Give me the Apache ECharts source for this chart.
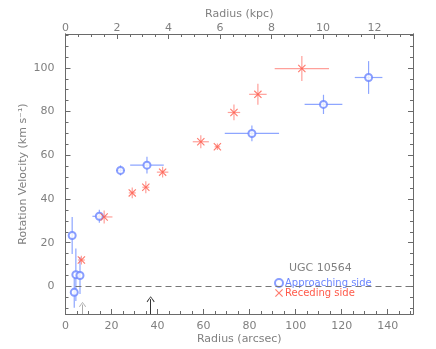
<!DOCTYPE html>
<html>
<head>
  <meta charset="utf-8">
  <script src="https://cdn.jsdelivr.net/npm/echarts@6.0.0/dist/echarts.min.js"></script>
  <style>
    html, body { margin: 0; padding: 0; background: #fff; }
  </style>
</head>
<body>
  <div id="chart" style="width: 436px; height: 349px;"></div>
  <script>
    // approaching side: radius (arcsec), velocity, radius error, velocity error
    var appR    = [2.9, 3.8, 4.5, 6.3, 14.7, 23.9, 35.4, 81.0, 112.1, 131.7];
    var appV    = [23.3, -2.7, 5.4, 5.0, 32.1, 53.1, 55.5, 70.0, 83.3, 95.6];
    var appRErr = [0, 0, 0, 0, 3.0, 1.8, 7.3, 11.8, 8.2, 6.0];
    var appVErr = [8.5, 7.0, 12.0, 8.5, 3.0, 2.3, 3.8, 3.6, 4.4, 7.5];

    // receding side
    var recR    = [6.9, 16.8, 29.0, 34.9, 42.2, 58.8, 66.0, 73.2, 83.6, 102.7];
    var recV    = [12.1, 31.8, 42.8, 45.4, 52.3, 66.2, 63.9, 79.6, 87.9, 99.7];
    var recRErr = [1.5, 3.6, 1.5, 1.5, 2.5, 3.5, 1.2, 2.7, 3.8, 11.8];
    var recVErr = [2.0, 3.0, 2.5, 2.7, 2.5, 3.0, 1.5, 3.6, 4.8, 5.7];

    // tick values
    var arcsecMajor = [0, 20, 40, 60, 80, 100, 120, 140];
    var arcsecMinor = [0, 5, 10, 15, 20, 25, 30, 35, 40, 45, 50, 55, 60, 65, 70, 75,
                       80, 85, 90, 95, 100, 105, 110, 115, 120, 125, 130, 135, 140, 145, 150];
    var kpcMajor = [0, 2, 4, 6, 8, 10, 12];
    var kpcMinor = [0, 0.5, 1, 1.5, 2, 2.5, 3, 3.5, 4, 4.5, 5, 5.5, 6, 6.5, 7, 7.5,
                    8, 8.5, 9, 9.5, 10, 10.5, 11, 11.5, 12, 12.5, 13, 13.5];
    var velMajor = [0, 20, 40, 60, 80, 100];
    var velMinor = [-10, -5, 0, 5, 10, 15, 20, 25, 30, 35, 40, 45, 50, 55, 60, 65,
                    70, 75, 80, 85, 90, 95, 100, 105, 110, 115];

    // arrow markers at the bottom (radius, tip velocity)
    var arrowGray  = [7.4, -8.3];
    var arrowBlack = [37.0, -5.8];

    var rMax = 151, kpcMax = 13.5, vMin = -12.6, vMax = 115.5;

    var BLUE = '#6b86ff', BLUE_BAR = '#8ea6ff';
    var RED = '#ff5a4a', RED_BAR = '#ffa09a';
    var AXIS = '#6a6a6a', TXT = '#808080';
    var FONT = 'DejaVu Sans';

    var xMark = 'path://M1,0L5,4L9,0L10,1L6,5L10,9L9,10L5,6L1,10L0,9L4,5L0,1Z';
    var chevron = 'path://M0,9L5,0L10,9L9,10L5,2L1,10Z';

    function zip4(a, b, c, d) {
      return a.map(function (v, i) { return [v, b[i], c[i], d[i]]; });
    }

    function errBars(color) {
      return function (params, api) {
        var x = api.value(0), y = api.value(1), xe = api.value(2), ye = api.value(3);
        var kids = [];
        var st = { stroke: color, lineWidth: 1.2 };
        if (ye > 0) {
          var a = api.coord([x, y - ye]), b = api.coord([x, y + ye]);
          kids.push({ type: 'line', shape: { x1: a[0], y1: a[1], x2: b[0], y2: b[1] }, style: st });
        }
        if (xe > 0) {
          var c = api.coord([x - xe, y]), d = api.coord([x + xe, y]);
          kids.push({ type: 'line', shape: { x1: c[0], y1: c[1], x2: d[0], y2: d[1] }, style: st });
        }
        return { type: 'group', children: kids };
      };
    }

    function tickAxis(pos, min, max, vals, len, extra) {
      var ax = {
        type: 'value', position: pos, min: min, max: max,
        splitLine: { show: false },
        nameMoveOverlap: false,
        axisLine: { show: true, onZero: false, lineStyle: { color: AXIS, width: 1 } },
        axisTick: { show: true, inside: true, length: len, customValues: vals, lineStyle: { color: AXIS } },
        axisLabel: { show: false }
      };
      return Object.assign(ax, extra || {});
    }

    var labelStyle = { color: TXT, fontFamily: FONT, fontSize: 11 };

    var chart = echarts.init(document.getElementById('chart'));

    var option = {
      animation: false,
      backgroundColor: '#fff',
      grid: { left: 65.5, right: 23, top: 34, bottom: 35, outerBoundsMode: 'none', containLabel: false },
      title: {
        text: 'UGC 10564', left: 284, top: 258,
        textStyle: { color: TXT, fontFamily: FONT, fontSize: 11, fontWeight: 'normal' }
      },
      legend: {
        orient: 'vertical', left: 269, top: 273, itemGap: 0,
        itemWidth: 8, itemHeight: 8,
        textStyle: { fontFamily: FONT, fontSize: 10, padding: [0, 0, 0, -3] },
        data: [
          { name: 'Approaching side', icon: 'emptyCircle', textStyle: { color: BLUE } },
          { name: 'Receding side', icon: xMark, textStyle: { color: RED } }
        ]
      },
      xAxis: [
        tickAxis('bottom', 0, rMax, arcsecMajor, 5, {
          name: 'Radius (arcsec)', nameLocation: 'middle', nameGap: 20,
          nameTextStyle: labelStyle,
          axisLabel: Object.assign({ show: true, margin: 7, customValues: arcsecMajor }, labelStyle)
        }),
        tickAxis('bottom', 0, rMax, arcsecMinor, 3),
        tickAxis('top', 0, kpcMax, kpcMajor, 5, {
          name: 'Radius (kpc)', nameLocation: 'middle', nameGap: 14,
          nameTextStyle: labelStyle,
          axisLabel: Object.assign({ show: true, margin: 0, customValues: kpcMajor }, labelStyle)
        }),
        tickAxis('top', 0, kpcMax, kpcMinor, 3)
      ],
      yAxis: [
        tickAxis('left', vMin, vMax, velMajor, 5, {
          name: 'Rotation Velocity (km s\u207B\u00B9)', nameLocation: 'middle', nameGap: 37,
          nameTextStyle: labelStyle,
          axisLabel: Object.assign({ show: true, margin: 11, customValues: velMajor }, labelStyle)
        }),
        tickAxis('left', vMin, vMax, velMinor, 3),
        tickAxis('right', vMin, vMax, velMajor, 5),
        tickAxis('right', vMin, vMax, velMinor, 3)
      ],
      series: [
        {
          name: 'refs', type: 'scatter', data: [], silent: true,
          markLine: {
            silent: true, animation: false,
            label: { show: false },
            data: [
              [{ coord: [0, 0], symbol: 'none', lineStyle: { color: '#777', type: [6, 4], width: 1 } },
               { coord: [rMax, 0], symbol: 'none' }],
              [{ coord: [arrowGray[0], vMin], symbol: 'none', lineStyle: { color: '#aaa', type: 'solid', width: 1 } },
               { coord: arrowGray, symbol: chevron, symbolSize: [7, 5] }],
              [{ coord: [arrowBlack[0], vMin], symbol: 'none', lineStyle: { color: '#333', type: 'solid', width: 1 } },
               { coord: arrowBlack, symbol: chevron, symbolSize: [8, 6] }]
            ]
          }
        },
        {
          name: 'appErr', type: 'custom', clip: true,
          renderItem: errBars(BLUE_BAR),
          data: zip4(appR, appV, appRErr, appVErr), z: 2
        },
        {
          name: 'recErr', type: 'custom', clip: true,
          renderItem: errBars(RED_BAR),
          data: zip4(recR, recV, recRErr, recVErr), z: 2
        },
        {
          name: 'Approaching side', type: 'scatter', symbol: 'emptyCircle', symbolSize: 7,
          itemStyle: { color: BLUE, borderColor: BLUE, borderWidth: 1 },
          data: appR.map(function (r, i) { return [r, appV[i]]; }), z: 3
        },
        {
          name: 'Receding side', type: 'scatter', symbol: xMark, symbolSize: 8,
          itemStyle: { color: RED },
          data: recR.map(function (r, i) { return [r, recV[i]]; }), z: 3
        }
      ]
    };

    chart.setOption(option);
  </script>
</body>
</html>
